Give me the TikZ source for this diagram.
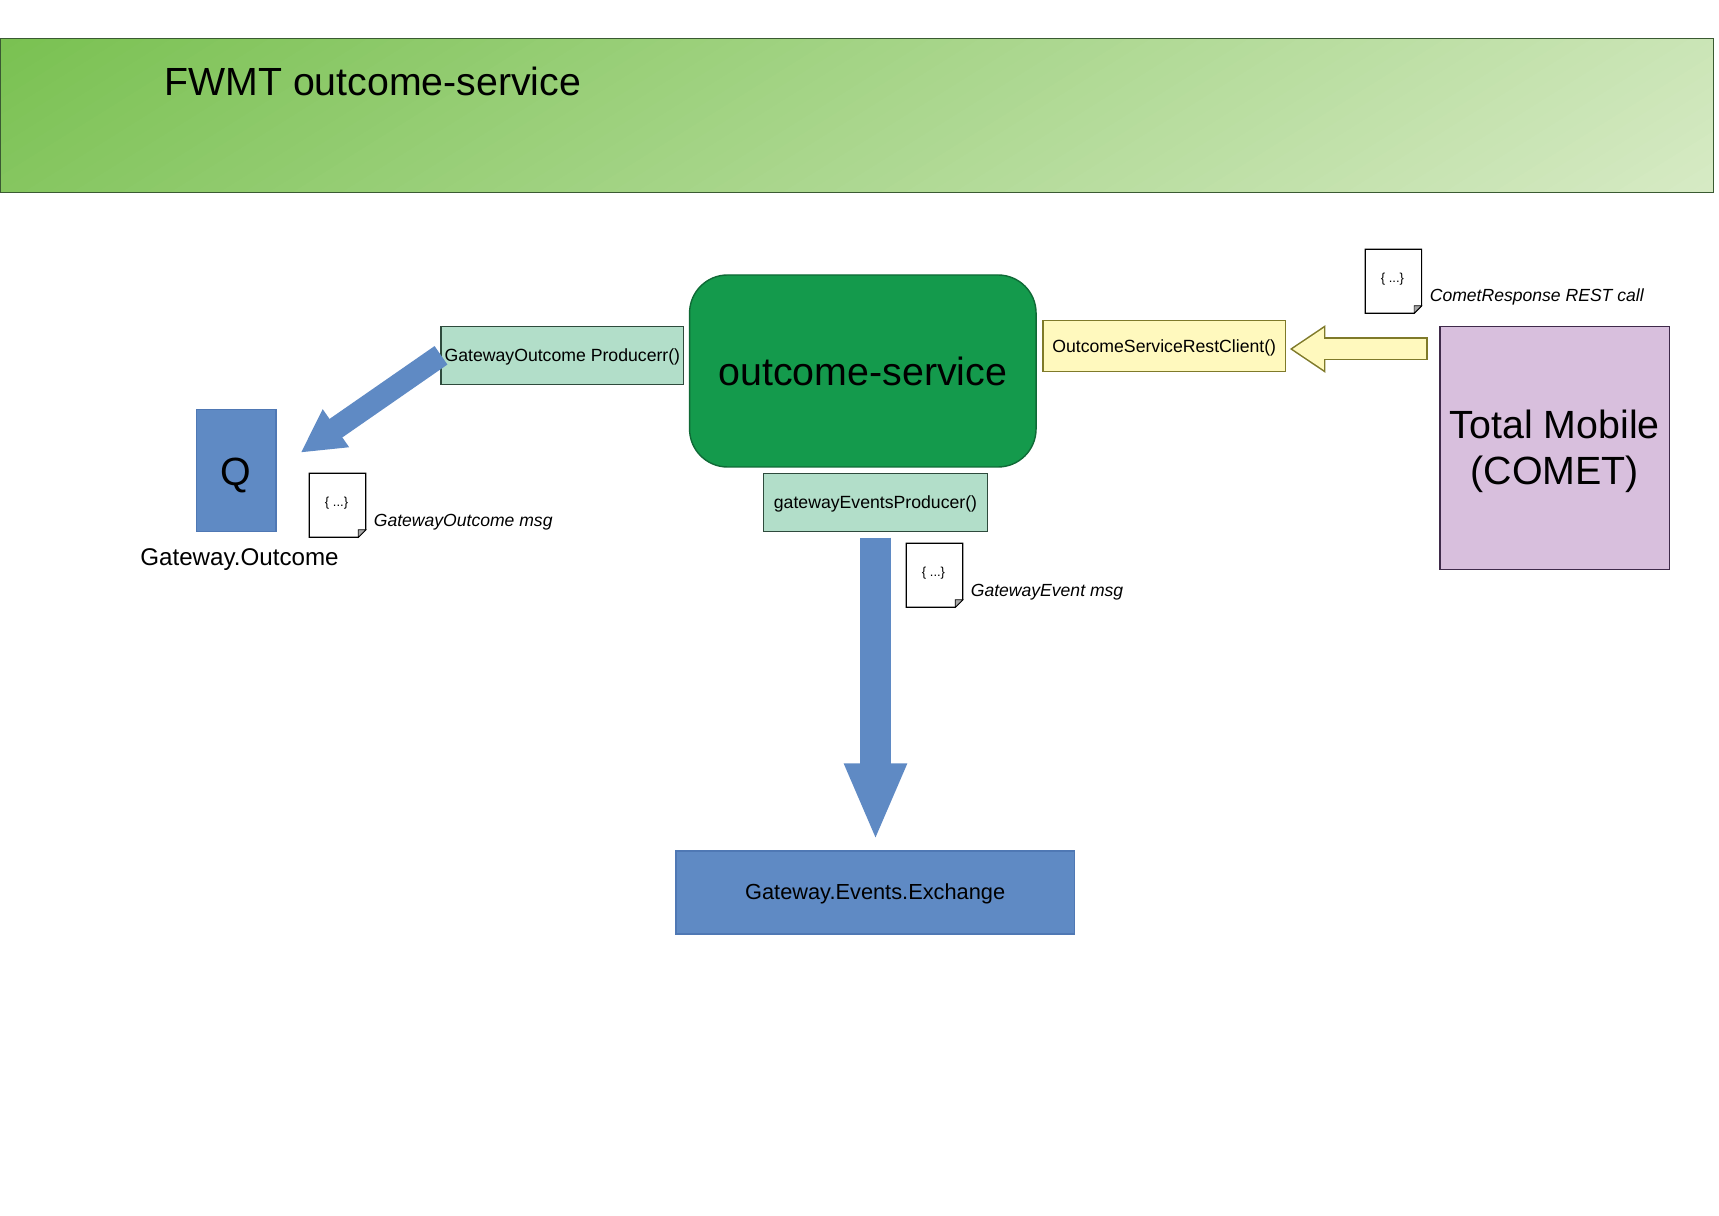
\documentclass[tikz,border=0pt]{standalone}
\usepackage{fontspec}
\setmainfont{Liberation Sans}
\usetikzlibrary{arrows.meta}
\definecolor{bluefill}{HTML}{5F8AC4}
\definecolor{bluedraw}{HTML}{4F78B4}
\definecolor{mintfill}{HTML}{B2DEC9}
\definecolor{mintdraw}{HTML}{2E4A3C}
\definecolor{svcfill}{HTML}{149A4C}
\definecolor{svcdraw}{HTML}{0F6A36}
\definecolor{lemonfill}{HTML}{FFF9BE}
\definecolor{lemondraw}{HTML}{7F7A2A}
\definecolor{mauvefill}{HTML}{D8BFDD}
\definecolor{mauvedraw}{HTML}{3F2A4A}
\definecolor{bannerleft}{HTML}{7AC152}
\definecolor{bannerright}{HTML}{D6EAC4}
\definecolor{bannerdraw}{HTML}{3A5A32}
\begin{document}
\begin{tikzpicture}[
        box/.style={draw, line width=0.8pt, inner sep=0pt, outer sep=0pt, align=center},
        mint/.style={box, fill=mintfill, draw=mintdraw, minimum height=1.16cm,
                     text height=9pt, text depth=2.1pt,
                     font=\fontsize{10.05}{12}\selectfont},
        blue/.style={box, fill=bluefill, draw=bluedraw},
        docbox/.style={inner sep=0pt, outer sep=0pt, minimum width=1.128cm,
                       text height=0.668cm, text depth=0.612cm,
                       font=\fontsize{7.4}{9}\selectfont},
        msg/.style={anchor=base west, inner sep=0pt,
                    font=\fontsize{10}{12}\selectfont\itshape},
        bluearr/.style={draw=bluefill},
      ]
        \useasboundingbox (0,0) rectangle (34.38,24.3);

        \begin{scope}
          \clip (0,20.454) rectangle (34.27,23.534);
          \foreach \i in {0,...,79} {
            \pgfmathsetmacro{\p}{\i*100/79}
            \fill[bannerright!\p!bannerleft, shift={(0,23.534)}, rotate=-58]
              ({\i*20.77/80},-3) rectangle (22,31);
          }
        \end{scope}
        \node[box, draw=bannerdraw, minimum width=34.27cm, minimum height=3.08cm]
          (banner) at (17.135,21.994) {};
        \node[anchor=base west, inner sep=0pt, font=\fontsize{22.35}{26}\selectfont]
          (title) at (3.28,22.38) {FWMT outcome-service};

        \node[box, fill=svcfill, draw=svcdraw, rounded corners=0.76cm,
              minimum width=6.93cm, minimum height=3.84cm,
              text height=16.4pt, text depth=0.2pt,
              font=\fontsize{22.4}{26}\selectfont]
          (svc) at (17.256,16.88) {outcome-service};
        \node[mint, minimum width=4.854cm] (gwo) at (11.247,17.194)
          {GatewayOutcome Producerr()};
        \node[mint, minimum width=4.488cm] (gwev) at (17.51,14.254)
          {gatewayEventsProducer()};
        \node[box, fill=lemonfill, draw=lemondraw, minimum width=4.848cm,
              minimum height=1.028cm, text height=9.8pt, text depth=2.1pt,
              font=\fontsize{10.05}{12}\selectfont]
          (rest) at (23.284,17.38) {OutcomeServiceRestClient()};
        \node[box, fill=mauvefill, draw=mauvedraw, minimum width=4.592cm,
              minimum height=4.86cm, font=\fontsize{22.4}{26}\selectfont]
          (comet) at (31.096,15.344) {\rule{0pt}{20.1pt}Total Mobile\\(COMET)};
        \node[blue, minimum width=1.586cm, minimum height=2.44cm,
              text height=18.4pt, text depth=1.3pt,
              font=\fontsize{22.4}{26}\selectfont]
          (q) at (4.723,14.894) {Q};
        \node[blue, minimum width=7.966cm, minimum height=1.66cm,
              text height=10.3pt, text depth=2.6pt,
              font=\fontsize{12.4}{15}\selectfont]
          (exch) at (17.503,6.45) {Gateway.Events.Exchange};

        \node[anchor=base west, inner sep=0pt, font=\fontsize{13.75}{16}\selectfont]
          (qname) at (2.8,12.98) {Gateway.Outcome};

        \node[docbox] (docout) at (6.751,14.194) {};
        \node[docbox] (docev) at (18.69,12.794) {};
        \node[docbox] (docrest) at (27.868,18.674) {};

        \foreach \d in {docout,docev,docrest} {
          \draw[line width=0.7pt, fill=white] (\d.north west) -- (\d.north east)
            -- ([yshift=0.15cm]\d.south east) -- ([xshift=-0.15cm]\d.south east)
            -- (\d.south west) -- cycle;
          \draw[line width=0.4pt, fill=gray!70] ([yshift=0.15cm]\d.south east)
            -- ([xshift=-0.15cm,yshift=0.15cm]\d.south east)
            -- ([xshift=-0.15cm]\d.south east) -- cycle;
          \node[docbox] at ([xshift=-0.02cm]\d) {\{ ...\}};
        }

        \node[msg] (msgout) at (7.47,13.766) {GatewayOutcome msg};
        \node[msg] (msgev) at (19.41,12.366) {GatewayEvent msg};
        \node[msg] (msgrest) at (28.59,18.266) {CometResponse REST call};

        \coordinate (qin) at (6.012,15.246);
        \coordinate (cmt) at (28.554,17.32);

        \draw[bluearr, line width=0.45cm,
              -{Triangle[length=0.86cm,width=0.86cm]}]
          (gwo.west) -- (qin);
        \draw[bluearr, line width=0.634cm,
              -{Triangle[length=1.55cm,width=1.14cm]},
              shorten <=0.126cm, shorten >=0.2cm]
          (gwev.south) -- (gwev.south |- exch.north);
        \draw[draw=lemondraw, line width=0.46cm,
              -{Triangle[length=0.716cm,width=0.9cm]}, shorten >=0.082cm]
          (cmt) -- (rest.east |- cmt);
        \draw[draw=lemonfill, line width=0.40cm,
              -{Triangle[length=0.63cm,width=0.79cm]},
              shorten <=0.03cm, shorten >=0.138cm]
          (cmt) -- (rest.east |- cmt);
      \end{tikzpicture}
\end{document}
